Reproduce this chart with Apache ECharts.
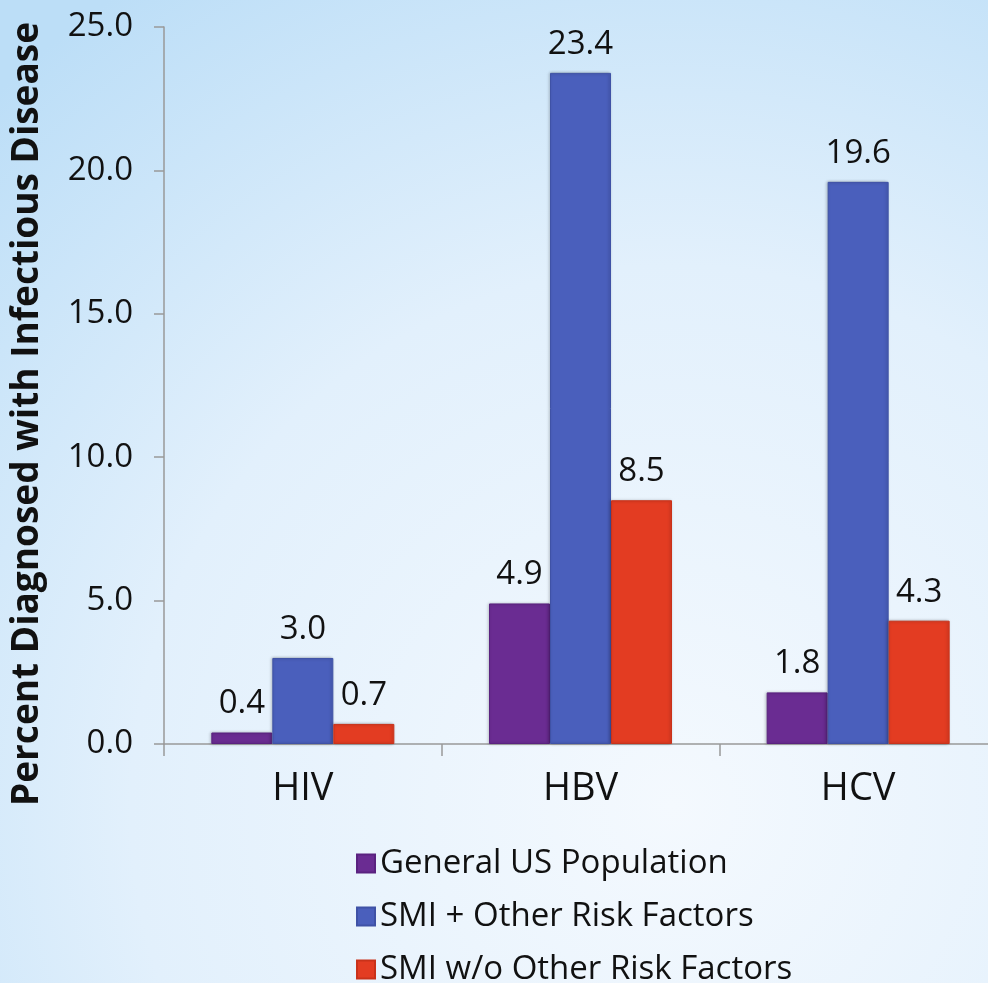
<!DOCTYPE html>
<html>
<head>
<meta charset="utf-8">
<script src="https://cdn.jsdelivr.net/npm/echarts@6/dist/echarts.min.js"></script>
<style>
  html, body { margin: 0; padding: 0; }
  #chart { width: 988px; height: 983px; }
</style>
</head>
<body>
<div id="chart"></div>
<script>
// Infection categories along the x axis
const categories = ['HIV', 'HBV', 'HCV'];

// Percent diagnosed, per population group
const generalPopulation = [0.4, 4.9, 1.8];
const smiWithRisk = [3.0, 23.4, 19.6];
const smiWithoutRisk = [0.7, 8.5, 4.3];

// Series names shown in the legend
const seriesNames = [
  'General US Population',
  'SMI + Other Risk Factors',
  'SMI w/o Other Risk Factors'
];

const yTicks = { min: 0, max: 25, interval: 5 };

const colors = ['#6a2c92', '#4a5fbc', '#e33c22'];
const borders = ['#5a2280', '#3f52a6', '#c9321a'];
const FONT = '"Open Sans", "Noto Sans", sans-serif';

function barSeries(name, data, i) {
  return {
    name: name,
    type: 'bar',
    data: data,
    barWidth: 61,
    barGap: '0%',
    itemStyle: {
      color: colors[i],
      borderColor: borders[i],
      borderWidth: 1,
      shadowColor: 'rgba(0,0,0,0.25)',
      shadowBlur: 3,
      shadowOffsetX: -1
    },
    label: {
      show: true,
      position: 'top',
      distance: 12,
      color: '#111',
      fontFamily: FONT,
      fontSize: 33,
      formatter: p => p.value.toFixed(1)
    }
  };
}

const chart = echarts.init(document.getElementById('chart'));
chart.setOption({
  backgroundColor: {
    type: 'radial', x: 0.68, y: 0.82, r: 1.0,
    colorStops: [
      { offset: 0, color: '#f4f9fe' },
      { offset: 0.55, color: '#e2f0fc' },
      { offset: 1, color: '#bcdef7' }
    ]
  },
  animation: false,
  color: colors,
  grid: {
    left: 164, top: 27, width: 833, height: 717,
    containLabel: false,
    outerBoundsMode: 'none'
  },
  legend: {
    orient: 'vertical',
    left: 356,
    top: 847,
    height: 200,
    padding: 0,
    itemWidth: 18,
    itemHeight: 18,
    itemGap: 20,
    icon: 'rect',
    textStyle: { fontFamily: FONT, fontSize: 33, color: '#111' },
    data: seriesNames
  },
  graphic: [{
    type: 'text',
    x: 27,
    y: 414,
    rotation: Math.PI / 2,
    style: {
      text: 'Percent Diagnosed with Infectious Disease',
      fontFamily: FONT,
      fontWeight: 'bold',
      fontSize: 37,
      fill: '#111',
      align: 'center',
      verticalAlign: 'middle'
    }
  }],
  xAxis: {
    type: 'category',
    data: categories,
    axisLine: { show: true, lineStyle: { color: '#999', width: 1.5 } },
    axisTick: { show: true, length: 12, lineStyle: { color: '#999', width: 1.5 } },
    axisLabel: { margin: 26, color: '#111', fontFamily: FONT, fontSize: 38 }
  },
  yAxis: {
    type: 'value',
    min: yTicks.min,
    max: yTicks.max,
    interval: yTicks.interval,
    splitLine: { show: false },
    axisLine: { show: true, lineStyle: { color: '#999', width: 1.5 } },
    axisTick: { show: true, length: 10, lineStyle: { color: '#999', width: 1.5 } },
    axisLabel: {
      margin: 31,
      color: '#111',
      fontFamily: FONT,
      fontSize: 33,
      formatter: v => v.toFixed(1)
    }
  },
  series: [
    barSeries(seriesNames[0], generalPopulation, 0),
    barSeries(seriesNames[1], smiWithRisk, 1),
    barSeries(seriesNames[2], smiWithoutRisk, 2)
  ]
});
</script>
</body>
</html>
